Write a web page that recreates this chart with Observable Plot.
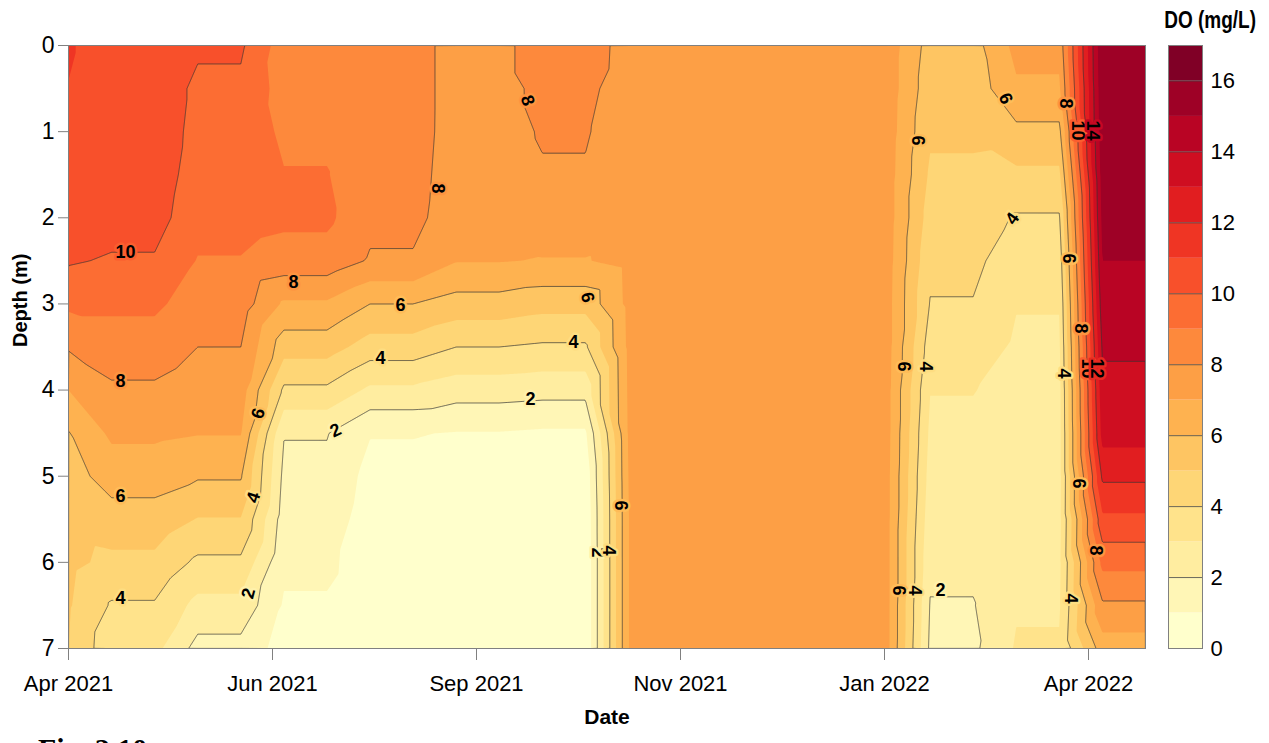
<!DOCTYPE html>
<html><head><meta charset="utf-8">
<script src="https://cdn.jsdelivr.net/npm/d3@7"></script>
<script src="https://cdn.jsdelivr.net/npm/@observablehq/plot@0.6"></script>
<style>
html,body{margin:0;padding:0;background:#fff;overflow:hidden;}
#wrap{position:relative;width:1269px;height:743px;font-family:"Liberation Sans",Arial,sans-serif;color:#000;}
#main{position:absolute;left:0;top:0;}
#legend{position:absolute;left:1160px;top:0;}
#ltitle{position:absolute;left:1150px;width:106px;text-align:right;top:12px;font-weight:bold;font-size:19px;line-height:19px;transform:scaleY(1.25);transform-origin:50% 16px;white-space:nowrap;}
#fig{position:absolute;left:38px;top:734px;font-family:"Liberation Serif",serif;font-weight:bold;font-size:30px;line-height:30px;}
</style></head><body>
<div id="wrap"><div id="main"></div><div id="legend"></div><div id="ltitle">DO (mg/L)</div><div id="fig">Fig. 2.10</div></div>
<script>
// ---- data ----
const xTickPos = [0, 1, 2, 3, 4, 5];
const xTickLabels = ["Apr 2021", "Jun 2021", "Sep 2021", "Nov 2021", "Jan 2022", "Apr 2022"];
const xMax = 5.2794;
const depthTicks = [0, 1, 2, 3, 4, 5, 6, 7];
const legendTicks = [0, 2, 4, 6, 8, 10, 12, 14, 16];
const bandValues = [0,1,2,3,4,5,6,7,8,9,10,11,12,13,14,15,16];
const lineLevels = [2, 4, 6, 8, 10, 12, 14, 16];

const depths = [0, 0.5, 1, 1.5, 2, 2.5, 3, 3.5, 4, 4.5, 5, 5.5, 6, 6.5, 7];

// DO profiles (mg/L) at each depth
const P0  = [11.08, 10.98, 10.9, 10.7, 10.45, 10.1, 9.2, 8.1, 7.0, 5.95, 5.6, 5.4, 5.25, 5.1, 5.0];
const P1  = [10.6, 10.6, 10.6, 10.55, 10.4, 9.9, 9.2, 8.5, 7.85, 7.2, 6.4, 5.6, 4.75, 3.9, 3.3];
const P2  = [10.15, 9.8, 9.7, 9.55, 9.35, 8.95, 8.5, 8.0, 7.5, 7.05, 6.1, 4.95, 3.8, 2.7, 1.65];
const P3  = [8.5, 8.6, 8.8, 9.05, 9.2, 8.6, 6.85, 5.45, 3.8, 2.05, 1.75, 1.5, 1.2, 0.9, 0.6];
const P4  = [8.35, 8.35, 8.35, 8.3, 8.25, 7.9, 6.0, 4.55, 2.8, 1.05, 0.7, 0.55, 0.5, 0.45, 0.4];
const P5  = [7.66, 7.66, 7.65, 7.6, 7.5, 7.05, 5.6, 4.0, 2.45, 0.95, 0.5, 0.4, 0.35, 0.3, 0.3];
const P6  = [8.6, 8.25, 8.08, 7.92, 7.6, 6.95, 5.35, 3.85, 2.35, 0.85, 0.3, 0.15, 0.1, 0.1, 0.1];
const P7  = [7.55, 7.5, 7.45, 7.4, 7.35, 7.3, 7.25, 7.2, 7.15, 7.1, 7.05, 7.0, 7.0, 7.0, 7.0];
const P7m = [7.5, 7.5, 7.45, 7.4, 7.35, 7.3, 7.3, 7.25, 7.25, 7.2, 7.2, 7.2, 7.2, 7.2, 7.2];
const P7b = [7.6, 7.6, 7.55, 7.5, 7.5, 7.45, 7.4, 7.4, 7.35, 7.35, 7.3, 7.3, 7.3, 7.3, 7.3];
const P8  = [5.6, 5.4, 5.15, 4.85, 4.55, 4.25, 3.95, 3.5, 3.03, 2.8, 2.6, 2.4, 2.2, 1.95, 1.8];
const P9  = [7.3, 6.85, 5.75, 4.8, 3.9, 3.4, 3.05, 2.85, 2.7, 2.65, 2.65, 2.7, 2.8, 2.9, 3.1];
const P10 = [15.9, 15.8, 15.7, 15.5, 15.3, 15.0, 14.6, 14.15, 13.7, 13.4, 12.2, 10.8, 9.3, 7.85, 6.5];

// grid columns (position on the date axis, tick units) and their profiles
const colX = [0, 0.2112, 0.4224, 0.6335, 0.8447, 1.0559, 1.2671, 1.4782, 1.6894, 1.9006, 2.1118,
  2.3229, 2.5341, 2.7453, 3.1676, 3.5900, 4.0124, 4.2235, 4.4347, 4.6459, 4.8571, 5.0682, 5.2794];
const colProfile = [P0, P1, P1, P2, P2, P3, P3, P4, P4, P5, P5, P6, P6, P7, P7m, P7m, P7b, P8, P8, P9, P9, P10, P10];

// contour labels
const labelX     = [0.279,1.103,0.255,0.255,0.255,1.627,1.529,1.309,2.265,2.475,2.544,1.809,2.250,2.706,2.593,2.647,0.931,0.907,0.882,
                    4.162,4.093,4.201,4.069,4.147,4.275,4.593,4.627,4.887,4.946,5.020,4.902,4.877,4.961,4.995,5.039,4.951,5.034,4.912];
const labelDepth = [2.403,2.751,3.901,5.236,6.420,3.018,3.634,4.469,4.110,3.448,2.925,1.660,0.638,5.340,5.886,5.862,4.272,5.247,6.362,
                    1.103,3.727,3.727,6.327,6.327,6.327,0.615,2.008,0.673,0.987,0.987,2.473,3.808,3.285,3.750,3.750,5.085,5.862,6.420];
const labelText  = ["10","8","8","6","4","6","4","2","2","4","6","8","8","6","2","4","6","4","2",
                    "6","6","4","6","4","2","6","4","8","10","14","6","4","8","10","12","6","8","4"];
const labelRot   = [0,0,0,0,0,0,0,-25,0,0,78,90,72,90,90,90,-72,-72,-75,
                    90,90,90,90,90,0,65,-55,90,90,90,90,90,90,90,90,90,90,90];

// ---- build tables ----
const grid = [];
colX.forEach((x, i) => depths.forEach((d, j) => grid.push({x, depth: d, value: colProfile[i][j]})));
const labels = labelText.map((t, i) => ({x: labelX[i], depth: labelDepth[i], t, r: labelRot[i], v: +t}));

const colorScale = {type: "linear", scheme: "YlOrRd", domain: [0, 16]};
const font = "'Liberation Sans', Arial, sans-serif";
const rasterBounds = {x1: -0.06, x2: xMax + 0.06, y1: -0.12, y2: 7.12};

const main = Plot.plot({
  width: 1160, height: 743,
  marginLeft: 68, marginRight: 15, marginTop: 45, marginBottom: 95,
  style: {fontFamily: font, background: "white", color: "black", overflow: "visible"},
  x: {type: "linear", domain: [0, xMax]},
  y: {domain: [0, 7], reverse: true},
  color: colorScale,
  marks: [
    Plot.contour(grid, {x: "x", y: "depth", fill: "value", thresholds: bandValues,
      interpolate: "barycentric", pixelSize: 1, ...rasterBounds, clip: true}),
    Plot.contour(grid, {x: "x", y: "depth", value: "value", thresholds: lineLevels,
      interpolate: "barycentric", pixelSize: 1, ...rasterBounds, clip: true,
      fill: "none", stroke: "#333", strokeWidth: 0.7}),
    Plot.text(labels, {x: "x", y: "depth", text: "t", rotate: "r",
      fontSize: 18, fontWeight: "bold", fill: "black",
      stroke: d => d.v - 0.5, strokeWidth: 5, strokeLinejoin: "round", paintOrder: "stroke", clip: true}),
    Plot.frame({stroke: "#808080", strokeWidth: 1}),
    Plot.axisX({ticks: xTickPos, tickFormat: d => xTickLabels[xTickPos.indexOf(d)],
      tickSize: 12, tickPadding: 15, fontSize: 22, label: null, stroke: "#808080"}),
    Plot.axisY({ticks: depthTicks, tickFormat: d => String(d), tickSize: 10, tickPadding: 4, fontSize: 23, label: null, stroke: "#808080"}),
    Plot.text(["Depth (m)"], {frameAnchor: "left", dx: -48, rotate: -90, fontSize: 20, fontWeight: "bold"}),
    Plot.text(["Date"], {frameAnchor: "bottom", dy: 75, fontSize: 21, fontWeight: "bold"})
  ]
});
document.getElementById("main").appendChild(main);

const legend = Plot.plot({
  width: 109, height: 743,
  marginLeft: 8, marginRight: 67, marginTop: 45, marginBottom: 95,
  style: {fontFamily: font, background: "transparent", color: "black", overflow: "visible"},
  x: {domain: [0, 1], axis: null},
  y: {domain: [0, 17]},
  color: colorScale,
  marks: [
    Plot.rect(bandValues, {x1: 0, x2: 1, y1: d => d, y2: d => d + 1, fill: d => d}),
    Plot.ruleY(lineLevels, {x1: 0, x2: 1, stroke: "#444", strokeWidth: 0.8}),
    Plot.frame({stroke: "#808080"}),
    Plot.axisY({anchor: "right", ticks: legendTicks, tickFormat: d => String(d), tickSize: 0, tickPadding: 8, fontSize: 22, label: null})
  ]
});
document.getElementById("legend").appendChild(legend);
</script>
</body></html>
